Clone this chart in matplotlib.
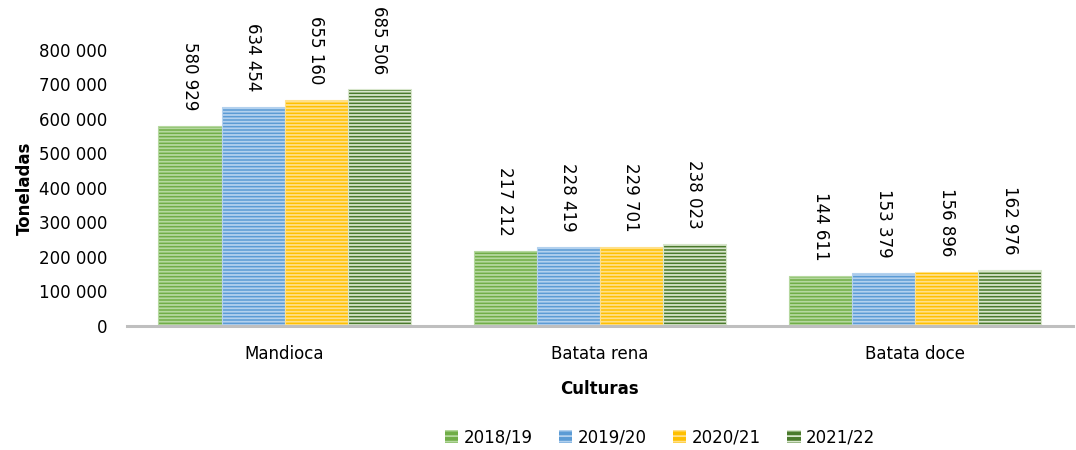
import numpy as np
import matplotlib
matplotlib.use("Agg")
from matplotlib import pyplot as plt
from matplotlib.patches import Patch

# data
culturas = ["Mandioca", "Batata rena", "Batata doce"]
anos = ["2018/19", "2019/20", "2020/21", "2021/22"]
v_2018 = [580929, 217212, 144611]
v_2019 = [634454, 228419, 153379]
v_2020 = [655160, 229701, 156896]
v_2021 = [685506, 238023, 162976]
yticks = [0, 100000, 200000, 300000, 400000, 500000, 600000, 700000, 800000]

series = [v_2018, v_2019, v_2020, v_2021]
base_cols = ["#70AD47", "#5B9BD5", "#FFC000", "#4A7A2C"]
stripe_cols = ["#B5D89F", "#B3D1EE", "#FFE08A", "#D8E6CC"]

plt.rcParams['font.family'] = ['DejaVu Sans']
plt.rcParams['hatch.linewidth'] = 1.3

fig = plt.figure(figsize=(10.76, 4.5), dpi=100)
ax = fig.add_axes([0.118, 0.2756, 0.879, 0.6133])

x = np.arange(len(culturas))
w = 0.2
for k in range(4):
    pos = x + (k - 1.5) * w
    bars = ax.bar(pos, series[k], width=w, color=base_cols[k], edgecolor=stripe_cols[k],
                  linewidth=0.8, hatch='-----')
    for xi, v in zip(pos, series[k]):
        ax.annotate("{:,}".format(v).replace(",", " "), xy=(xi, v), xytext=(0, 11),
                    textcoords='offset points', rotation=270, ha='center', va='bottom',
                    fontsize=12, annotation_clip=False)

ax.set_xlim(-0.5, 2.5)
ax.set_ylim(0, 800000)
ax.set_yticks(yticks)
ax.set_yticklabels(["{:,}".format(t).replace(",", " ") for t in yticks], fontsize=12)
ax.set_xticks(x)
ax.set_xticklabels(culturas, fontsize=12)
ax.tick_params(axis='both', length=0)
ax.tick_params(axis='x', pad=14)
ax.tick_params(axis='y', pad=14)
for s in ['top', 'right', 'left']:
    ax.spines[s].set_visible(False)
ax.spines['bottom'].set_color('#BFBFBF')
ax.spines['bottom'].set_linewidth(2.2)

ax.set_xlabel("Culturas", fontsize=12, fontweight='bold', labelpad=12)
ax.set_ylabel("Toneladas", fontsize=12, fontweight='bold', labelpad=4)

handles = [Patch(facecolor=base_cols[k], edgecolor=stripe_cols[k], linewidth=0, hatch='---')
           for k in range(4)]
fig.legend(handles, anos, loc='center', bbox_to_anchor=(660 / 1076, 1 - 437 / 450),
           ncol=4, frameon=False, fontsize=12, handlelength=0.8, handleheight=0.8,
           handletextpad=0.3, columnspacing=1.6)

fig.savefig("out.png", dpi=100)
